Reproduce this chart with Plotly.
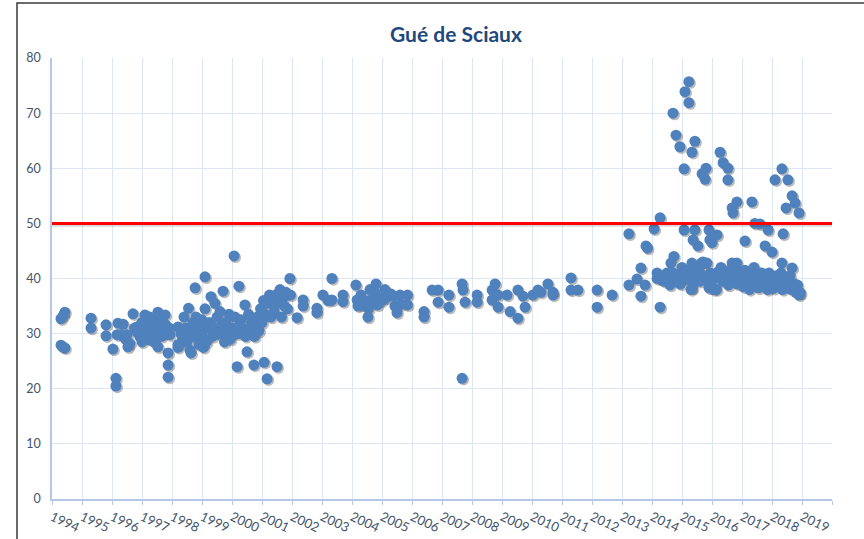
import plotly.graph_objects as go

# ---- data (decimal year, value) ----
t_a = [1994.30, 1994.43, 1994.38, 1994.30, 1994.43, 1994.36,
       1995.30, 1995.30, 1995.80, 1995.80,
       1996.03, 1996.13, 1996.13, 1996.20, 1996.37, 1996.17, 1996.30, 1996.45, 1996.50, 1996.53,
       1996.60, 1996.70, 1996.75, 1996.83, 1996.85, 1996.93, 1997.00, 1997.05, 1997.10, 1997.15,
       1997.20, 1997.25, 1997.30, 1997.35, 1997.40, 1997.45, 1997.53, 1997.53, 1997.60, 1997.65,
       1997.70, 1997.77, 1997.80, 1997.87, 1997.87, 1997.87, 1997.93, 1997.90, 1997.70, 1997.45,
       1996.95, 1997.00, 1997.25, 1997.58]
v_a = [32.7, 33.9, 33.3, 27.9, 27.4, 27.6,
       32.8, 31.0, 31.6, 29.6,
       27.2, 21.9, 20.5, 31.9, 31.7, 29.8, 29.8, 29.0, 29.8, 27.6,
       28.2, 33.6, 31.0, 31.2, 30.2, 29.4, 32.0, 30.5, 33.4, 31.5,
       29.2, 29.0, 32.5, 31.0, 28.5, 33.0, 33.9, 27.6, 30.5, 29.5,
       32.0, 33.4, 31.5, 26.5, 24.3, 22.1, 29.8, 31.0, 30.0, 30.0,
       31.5, 28.5, 33.0, 31.5]

t_b = [1998.20, 1998.20, 1998.20, 1998.30, 1998.40, 1998.45, 1998.50, 1998.55, 1998.60, 1998.63,
       1998.65, 1998.70, 1998.75, 1998.77, 1998.80, 1998.85, 1998.90, 1998.95, 1999.00, 1999.05,
       1999.10, 1999.10, 1999.15, 1999.20, 1999.30, 1999.25, 1999.35, 1999.43, 1999.50, 1999.55,
       1999.60, 1999.65, 1999.70, 1999.75, 1999.80, 1999.85, 1999.90, 1999.95, 2000.00, 2000.07,
       2000.10, 2000.17, 2000.20, 2000.23, 2000.30, 2000.35, 2000.43, 2000.45, 2000.50, 2000.55,
       2000.60, 2000.65, 2000.73, 2000.75, 2000.80, 2000.85, 2000.90, 2000.95, 2001.00, 2001.05,
       2001.07, 2001.10, 2001.17, 2001.20, 2001.25, 2001.30, 2001.35, 2001.40, 2001.45, 2001.50,
       2001.55, 2001.60, 2001.65, 2001.70, 2001.75, 2001.80, 2001.85, 2001.93, 2001.95,
       1998.35, 1998.90, 1999.40, 1999.80, 2000.25, 2000.70, 1999.00, 1998.58]
v_b = [31.2, 28.0, 27.5, 30.0, 33.0, 31.0, 28.5, 34.6, 27.0, 26.5,
       30.5, 32.0, 29.5, 38.3, 33.0, 31.5, 28.0, 30.0, 32.5, 27.5,
       40.3, 34.5, 28.5, 31.0, 36.7, 32.0, 29.5, 35.5, 33.0, 30.0,
       34.0, 31.5, 37.7, 28.5, 32.0, 30.5, 33.5, 29.0, 31.0, 44.1,
       33.0, 24.0, 30.0, 38.6, 32.5, 31.0, 35.2, 29.5, 26.7, 33.5,
       30.5, 32.0, 24.3, 29.5, 31.5, 33.0, 30.5, 34.5, 32.0, 36.0,
       24.8, 33.5, 21.8, 35.5, 37.0, 33.0, 36.0, 34.0, 37.0, 24.0,
       35.5, 38.0, 33.0, 36.5, 35.0, 37.5, 34.5, 40.0, 37.0,
       29.0, 30.5, 31.0, 29.5, 31.5, 31.0, 29.5, 30.0]

t_c = [2002.17, 2002.37, 2002.37, 2002.83, 2002.83, 2003.03, 2003.20, 2003.33, 2003.33, 2003.70,
       2003.70, 2004.13, 2004.17, 2004.20, 2004.30, 2004.30, 2004.40, 2004.53, 2004.55, 2004.60,
       2004.65, 2004.75, 2004.80, 2004.85, 2004.90, 2005.00, 2005.10, 2005.15, 2005.30, 2005.40,
       2005.43, 2005.50, 2005.60, 2005.65, 2005.85, 2005.85]
v_c = [32.9, 36.1, 35.0, 34.6, 33.8, 37.0, 36.0, 40.0, 36.1, 37.0,
       35.8, 38.8, 36.1, 35.0, 37.0, 35.2, 36.0, 33.0, 34.5, 38.0,
       36.2, 37.5, 39.0, 35.2, 36.5, 36.0, 38.0, 36.5, 37.2, 36.8,
       35.0, 33.8, 37.0, 35.3, 37.0, 35.2]

t_d = [2006.40, 2006.40, 2006.67, 2006.87, 2006.87, 2007.23, 2007.23, 2007.67, 2007.70, 2007.67,
       2007.77, 2008.17, 2008.17, 2008.67, 2008.77, 2008.67, 2008.87, 2008.87, 2009.17, 2009.27,
       2009.53, 2009.53, 2009.77, 2009.70, 2010.03, 2010.20, 2010.30, 2010.53, 2010.70, 2010.70,
       2011.30, 2011.30, 2011.53, 2012.17, 2012.17, 2012.67]
v_d = [34.0, 33.0, 37.9, 37.9, 35.7, 37.0, 34.8, 39.0, 37.9, 21.9,
       35.7, 37.0, 35.7, 37.9, 39.0, 36.1, 37.0, 34.8, 37.0, 34.0,
       37.9, 32.8, 34.8, 36.8, 37.0, 37.9, 37.5, 39.0, 37.5, 37.0,
       40.1, 37.9, 37.9, 37.9, 34.8, 37.0]

t_e = [2013.23, 2014.07, 2014.27, 2013.80, 2013.85, 2013.63, 2013.50, 2013.23, 2013.63, 2013.77,
       2014.17, 2014.17, 2014.27, 2014.27,
       2014.70, 2014.80, 2014.93, 2015.10, 2015.23, 2015.23, 2015.43, 2015.33, 2015.07, 2015.67,
       2015.77, 2015.80, 2016.27, 2016.37, 2016.53, 2016.53, 2016.67, 2016.83, 2016.70, 2017.33,
       2018.10, 2018.33, 2018.53, 2018.67, 2018.77, 2018.47, 2018.90,
       2017.43, 2017.60, 2017.87, 2018.37, 2017.10, 2017.77, 2018.00, 2018.33, 2018.67,
       2015.07, 2015.43, 2015.37, 2015.53, 2015.90, 2015.93, 2016.17, 2016.00,
       2014.73, 2014.63, 2015.00, 2015.33, 2015.83, 2016.67, 2016.83]
v_e = [48.1, 49.0, 51.0, 45.9, 45.5, 41.9, 39.9, 38.8, 36.8, 38.8,
       41.0, 40.0, 40.0, 34.8,
       70.0, 66.0, 63.9, 73.9, 75.7, 71.9, 64.9, 62.9, 59.9, 59.0,
       58.0, 60.0, 62.9, 61.0, 60.0, 57.9, 52.8, 53.9, 51.9, 53.9,
       57.9, 59.9, 57.9, 55.0, 53.7, 52.8, 51.9,
       50.0, 49.9, 48.8, 48.1, 46.8, 45.9, 44.8, 42.8, 41.9,
       48.8, 48.8, 47.0, 45.9, 48.8, 47.0, 47.9, 46.5,
       44.0, 42.8, 42.0, 42.8, 42.8, 42.8, 42.8]

t_f = [2014.27, 2014.40, 2014.50, 2014.55, 2014.60, 2014.70, 2014.75, 2014.85, 2014.95, 2015.05,
       2015.10, 2015.20, 2015.30, 2015.35, 2015.40, 2015.45, 2015.55, 2015.60, 2015.65, 2015.70,
       2015.75, 2015.85, 2015.90, 2015.95, 2016.00, 2016.10, 2016.15, 2016.20, 2016.30, 2016.35,
       2016.45, 2016.50, 2016.55, 2016.60, 2016.70, 2016.75, 2016.85, 2016.90, 2017.00, 2017.05,
       2017.10, 2017.20, 2017.25, 2017.30, 2017.40, 2017.45, 2017.50, 2017.55, 2017.65, 2017.70,
       2017.80, 2017.85, 2017.90, 2018.00, 2018.05, 2018.15, 2018.20, 2018.30, 2018.35, 2018.45,
       2018.50, 2018.60, 2018.65, 2018.75, 2018.80, 2018.85, 2018.90, 2018.95, 2015.30, 2016.05]
v_f = [40.0, 39.5, 41.0, 40.0, 38.8, 41.0, 39.6, 40.5, 39.0, 41.0,
       40.0, 41.5, 39.6, 38.3, 41.0, 40.0, 41.5, 39.5, 42.8, 43.0,
       40.5, 39.6, 38.3, 41.0, 39.6, 40.5, 38.0, 41.2, 42.0, 39.5,
       41.0, 40.0, 38.8, 41.5, 40.2, 42.0, 39.0, 41.0, 40.0, 38.5,
       41.5, 39.5, 38.0, 40.5, 42.0, 39.0, 40.8, 38.3, 41.0, 39.5,
       40.5, 38.0, 41.0, 39.6, 38.2, 40.5, 39.0, 41.0, 38.0, 39.6,
       38.5, 40.5, 38.0, 39.0, 37.5, 38.8, 37.0, 37.4, 38.0, 38.0]

years = t_a + t_b + t_c + t_d + t_e + t_f
values = v_a + v_b + v_c + v_d + v_e + v_f

tick_years = list(range(1994, 2021))
tick_labels = [str(y) for y in range(1994, 2020)] + [""]
THRESHOLD = 50
TITLE = "Gué de Sciaux"

fig = go.Figure()
# soft drop shadow under markers
fig.add_trace(go.Scatter(
    x=[x + 0.05 for x in years], y=[v - 0.3 for v in values], mode="markers",
    marker=dict(size=11, color="rgba(30,30,30,0.30)", line=dict(width=0)),
    hoverinfo="skip", showlegend=False))
fig.add_trace(go.Scatter(
    x=years, y=values, mode="markers",
    marker=dict(size=11, color="#4F81BD", line=dict(width=0)),
    showlegend=False))

# threshold line with faint shadow
fig.add_shape(type="line", xref="x", yref="y", x0=1994, x1=2020, y0=THRESHOLD - 0.35, y1=THRESHOLD - 0.35,
              line=dict(color="rgba(0,0,0,0.15)", width=3), layer="above")
fig.add_shape(type="line", xref="x", yref="y", x0=1994, x1=2020, y0=THRESHOLD, y1=THRESHOLD,
              line=dict(color="#FF0000", width=3), layer="above")

# outer frame (left and top edges visible)
fig.add_shape(type="rect", xref="paper", yref="paper",
              x0=(17 - 52) / 780, x1=1.2, y0=-0.3, y1=(499 - 3) / 441,
              line=dict(color="#3a3a3a", width=1.5), layer="below")

fig.update_layout(
    width=864, height=539,
    margin=dict(l=52, r=32, t=58, b=40),
    paper_bgcolor="white", plot_bgcolor="white",
    font=dict(family="Lato, Open Sans, sans-serif", color="#44546A"),
    title=dict(text="<b>" + TITLE + "</b>", x=456 / 864, xanchor="center", y=1 - 35 / 539, yanchor="middle",
               font=dict(size=21, color="#1F497D", family="Lato, Open Sans, sans-serif")),
    xaxis=dict(range=[1994, 2020], tickmode="array", tickvals=tick_years, ticktext=tick_labels,
               tickangle=25, tickfont=dict(size=13, color="#44546A"),
               showgrid=True, gridcolor="#DCE6F4", gridwidth=1.2,
               showline=True, linecolor="#B4C7E7", linewidth=1.5,
               ticks="outside", ticklen=4, tickcolor="#B4C7E7", zeroline=False, automargin=False),
    yaxis=dict(range=[0, 80], dtick=10, tickfont=dict(size=12.5, color="#44546A"),
               showgrid=True, gridcolor="#DCE6F4", gridwidth=1.2,
               showline=True, linecolor="#B4C7E7", linewidth=1.5,
               ticks="", ticklabelstandoff=7, zeroline=False, automargin=False),
)

fig.write_html("out.html", config={"displayModeBar": False},
               post_script="document.body.style.margin='0px';document.body.style.overflow='hidden';")
